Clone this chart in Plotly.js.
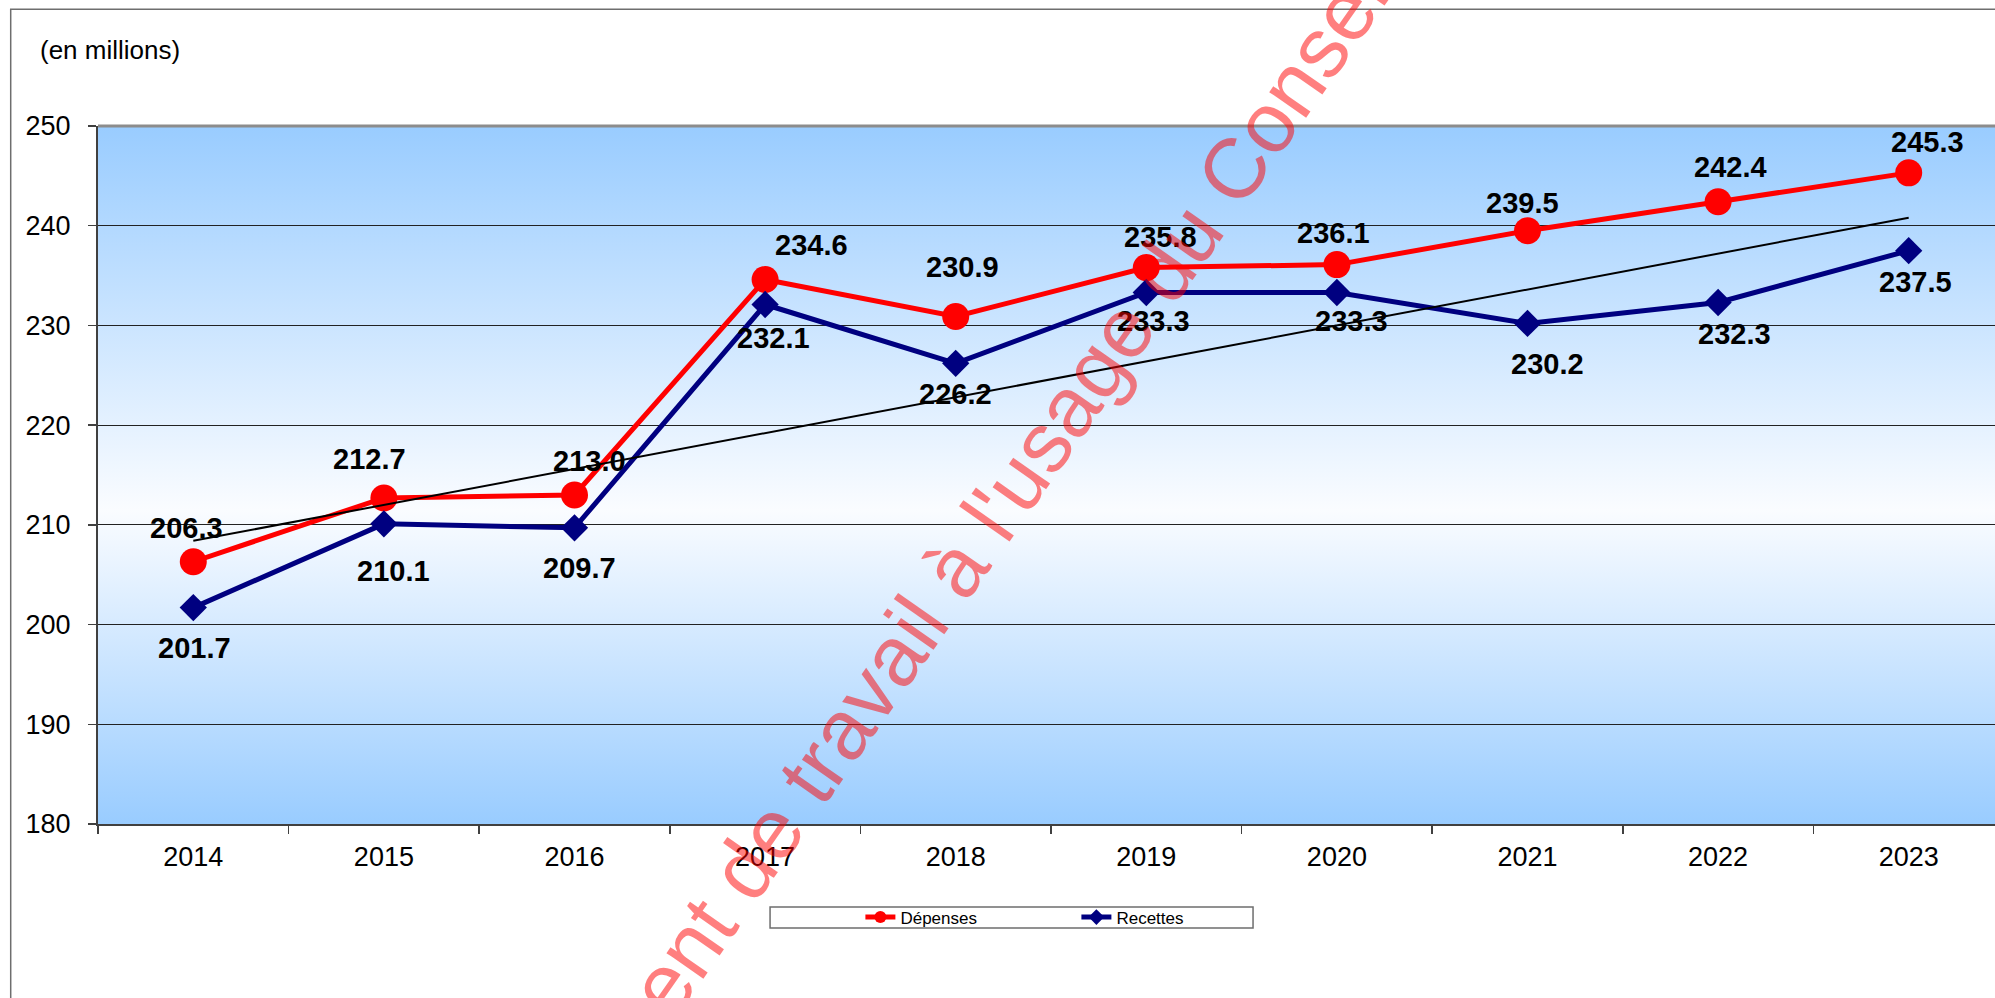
<!DOCTYPE html>
<html>
<head>
<meta charset="utf-8">
<script src="https://cdn.plot.ly/plotly-3.0.1.min.js"></script>
<style>
html, body { margin: 0; padding: 0; overflow: hidden; background: #ffffff; width: 1995px; height: 998px; }
#chart { width: 2010px; height: 998px; }
</style>
</head>
<body>
<div id="chart"></div>
<script>
// ---- Data ----
const years = ['2014', '2015', '2016', '2017', '2018', '2019', '2020', '2021', '2022', '2023'];
const depenses = [206.3, 212.7, 213.0, 234.6, 230.9, 235.8, 236.1, 239.5, 242.4, 245.3];
const recettes = [201.7, 210.1, 209.7, 232.1, 226.2, 233.3, 233.3, 230.2, 232.3, 237.5];
const trendYears = ['2014', '2023'];
const trendValues = [208.4, 240.8];
const yTickValues = [180, 190, 200, 210, 220, 230, 240, 250];
const seriesNames = ['Dépenses', 'Recettes'];
const unitLabel = '(en millions)';
const watermarkText = "Document de travail à l'usage du Conseil";

// ---- Label placement (pixel nudges of the value labels, as in the original) ----
const depLabelDx = [-7, -14, 15, 46, 7, 14, -3, -5, 12, 19];
const depLabelDy = [34, 39, 34, 35, 49, 31, 32, 28, 35, 31];
const recLabelDx = [1, 10, 5, 8, 0, 7, 15, 20, 16, 7];
const recLabelDy = [-40, -47, -40, -34, -31, -28, -28, -41, -32, -31];

// ---- Styling ----
const FONT = '"Liberation Sans", Arial, sans-serif';
const labelFont = () => ({ family: FONT, size: 29, color: '#000000', weight: 'bold' });

const gradSvg = "<svg xmlns='http://www.w3.org/2000/svg' width='100' height='100' viewBox='0 0 100 100' preserveAspectRatio='none'>" +
  "<defs><linearGradient id='g' x1='0' y1='0' x2='0' y2='1'>" +
  "<stop offset='0' stop-color='#99CCFF'/>" +
  "<stop offset='0.55' stop-color='#FAFCFF'/>" +
  "<stop offset='1' stop-color='#99CCFF'/>" +
  "</linearGradient></defs><rect width='100' height='100' fill='url(#g)'/></svg>";

const traces = [
  {
    type: 'scatter', mode: 'lines+markers', name: seriesNames[0],
    x: years, y: depenses,
    line: { color: '#FF0000', width: 5 },
    marker: { symbol: 'circle', size: 27, color: '#FF0000' },
    cliponaxis: false, hoverinfo: 'x+y'
  },
  {
    type: 'scatter', mode: 'lines+markers', name: seriesNames[1],
    x: years, y: recettes,
    line: { color: '#000080', width: 5 },
    marker: { symbol: 'diamond', size: 21, color: '#000080' },
    cliponaxis: false, hoverinfo: 'x+y'
  },
  {
    type: 'scatter', mode: 'lines', name: 'Tendance',
    x: trendYears, y: trendValues,
    line: { color: '#000000', width: 2 },
    showlegend: false, hoverinfo: 'skip'
  }
];

// value labels: x given as the category's serial number on the category axis
const valueLabels = [];
years.forEach((yr, i) => {
  valueLabels.push({
    x: i, y: depenses[i], xref: 'x', yref: 'y', text: depenses[i].toFixed(1),
    showarrow: false, xanchor: 'center', yanchor: 'middle',
    xshift: depLabelDx[i], yshift: depLabelDy[i], font: labelFont()
  });
  valueLabels.push({
    x: i, y: recettes[i], xref: 'x', yref: 'y', text: recettes[i].toFixed(1),
    showarrow: false, xanchor: 'center', yanchor: 'middle',
    xshift: recLabelDx[i], yshift: recLabelDy[i], font: labelFont()
  });
});

const layout = {
  width: 2010, height: 998,
  margin: { l: 98, r: 6, t: 126, b: 174, autoexpand: false },
  paper_bgcolor: '#ffffff',
  plot_bgcolor: 'rgba(0,0,0,0)',
  font: { family: FONT, color: '#000000' },
  showlegend: true,
  xaxis: {
    type: 'category', categoryorder: 'array', categoryarray: years,
    range: [-0.5, 9.5],
    tickson: 'boundaries', ticks: 'outside', ticklen: 8, tickwidth: 1.5, tickcolor: '#404040',
    showline: true, linecolor: '#404040', linewidth: 2,
    showgrid: false, zeroline: false,
    tickfont: { family: FONT, size: 27, color: '#000000' },
    ticklabelstandoff: 8,
    fixedrange: true
  },
  yaxis: {
    range: [180, 250], tickvals: yTickValues, ticktext: yTickValues.map(String),
    ticks: 'outside', ticklen: 8, tickwidth: 1.5, tickcolor: '#404040',
    showline: true, linecolor: '#404040', linewidth: 2,
    showgrid: true, gridcolor: '#222222', gridwidth: 1.2,
    zeroline: false,
    tickfont: { family: FONT, size: 27, color: '#000000' },
    ticklabelstandoff: 12,
    fixedrange: true
  },
  images: [{
    source: 'data:image/svg+xml;charset=utf-8,' + encodeURIComponent(gradSvg),
    xref: 'paper', yref: 'paper', x: 0, y: 1, sizex: 1, sizey: 1,
    xanchor: 'left', yanchor: 'top', sizing: 'stretch', layer: 'below'
  }],
  shapes: [
    { type: 'rect', xref: 'paper', yref: 'paper', x0: -0.0458, x1: 1.5, y0: -1, y1: 1.1672,
      line: { color: '#6e6e6e', width: 1.5 }, fillcolor: 'rgba(0,0,0,0)', layer: 'below' },
    { type: 'line', xref: 'paper', yref: 'paper', x0: 0, x1: 1, y0: 1, y1: 1,
      line: { color: '#8c8c8c', width: 3 }, layer: 'above' },
    { type: 'rect', xref: 'paper', yref: 'paper', x0: 0.3526, x1: 0.6060, y0: -0.149, y1: -0.1189,
      line: { color: '#6e6e6e', width: 1.5 }, fillcolor: '#ffffff', layer: 'above' }
  ],
  legend: {
    orientation: 'h', xref: 'paper', yref: 'paper',
    x: 0.4, xanchor: 'left', y: -0.134, yanchor: 'middle',
    bgcolor: 'rgba(0,0,0,0)', borderwidth: 0,
    font: { family: FONT, size: 17, color: '#000000' },
    entrywidth: 171, entrywidthmode: 'pixels', itemsizing: 'constant',
    itemclick: false, itemdoubleclick: false
  },
  annotations: [
    { text: unitLabel, xref: 'paper', yref: 'paper', x: -0.0315, y: 1.1089,
      xanchor: 'left', yanchor: 'middle', showarrow: false,
      font: { family: FONT, size: 26, color: '#000000' } }
  ].concat(valueLabels).concat([
    { text: watermarkText, xref: 'paper', yref: 'paper', x: 0.4397, y: 0.3295,
      xanchor: 'center', yanchor: 'middle', showarrow: false, textangle: -55,
      font: { family: FONT, size: 85, color: 'rgba(255,0,0,0.5)' } }
  ])
};

Plotly.newPlot('chart', traces, layout, { displayModeBar: false, staticPlot: true });
</script>
</body>
</html>
